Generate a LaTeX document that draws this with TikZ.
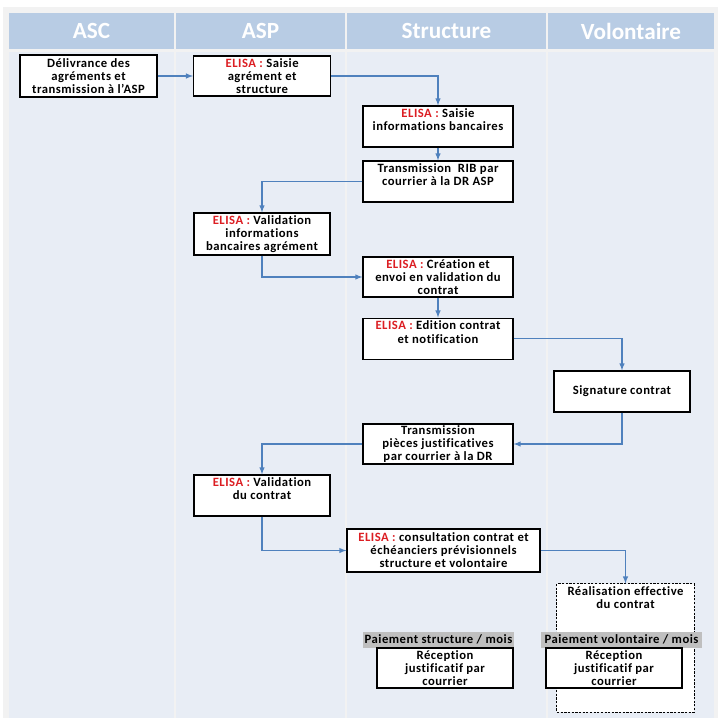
\documentclass[tikz,border=0pt]{standalone}
\usepackage{fontspec}
\setmainfont{Carlito}[Ligatures=NoCommon]
\newfontfamily\boitefont{Carlito}[LetterSpace=4,Ligatures=NoCommon]
\usepackage{tikz}
\usetikzlibrary{positioning,arrows}
\definecolor{entetebleu}{RGB}{184,204,228}
\definecolor{fondbleu}{RGB}{232,237,245}
\definecolor{flechebleu}{RGB}{79,129,189}
\definecolor{elisarouge}{RGB}{220,30,35}
\definecolor{grispaie}{RGB}{191,191,191}
\newcommand{\elisa}{\textcolor{elisarouge}{ELISA :}}
\tikzstyle{etape}=[draw, fill=white, minimum height = 1.025cm, minimum width=3.425cm, thick, align=center, inner sep=1pt, font=\boitefont\bfseries\fontsize{9}{9.3}\selectfont]
\tikzstyle{etape1}=[etape, minimum width=3.75cm]
\tikzstyle{pointille}=[draw, dash pattern=on 1.6pt off 1pt, fill=white, line width=0.7pt, minimum width=3.425cm, minimum height=3.2cm]
\tikzstyle{paie}=[fill=grispaie, inner sep=1pt, minimum height=0.4cm, font=\boitefont\bfseries\fontsize{9}{9.3}\selectfont]
\tikzstyle{entete}=[fill=entetebleu, text=white, minimum height=0.9cm, inner sep=0pt, font=\bfseries\fontsize{16.5}{18}\selectfont]
\tikzstyle{fleche}=[->, draw=flechebleu, line width=0.75pt]

\begin{document}
\begin{tikzpicture}[x=0.025cm,y=-0.025cm,node distance=2cm,auto,>=latex]
\useasboundingbox (0,0) rectangle (718,718);
\fill[white] (0,0) rectangle (718,718);
\fill[black!5] (3,7) rectangle (718,718);

% colonnes
\foreach \xa/\xb in {9/174,176/345,347/546,548/714}
  \fill[fondbleu] (\xa,52) rectangle (\xb,718);
\node[entete, minimum width=4.125cm] at (91.5,31) (asc) {ASC};
\node[entete, minimum width=4.225cm] at (260.5,31) (asp) {ASP};
\node[entete, minimum width=4.975cm] at (446.5,31) (struct) {Structure};
\node[entete, minimum width=4.15cm] at (631,31) (volont) {Volontaire};

\node[etape, minimum height=1.05cm] at (88.5,76) (deliv) {Délivrance des\\agréments et\\transmission à l’ASP};
\node[etape, right of = deliv, node distance = 4.34cm, minimum height=1cm] (saisie) {\elisa{} Saisie\\agrément et\\structure};
\draw[fleche] (deliv) -- (saisie);

\node[etape1] at (438,126.5) (banc) {\elisa{} Saisie\\informations bancaires\\\mbox{}};
\draw[fleche] (saisie) -| (banc);
\node[etape1, below of = banc, node distance = 1.375cm] (rib) {Transmission~ RIB par\\courrier à la DR ASP\\\mbox{}};
\draw[fleche] (banc) -- (rib);

\node[etape, minimum width=3.4cm, minimum height=1.05cm] at (262,234) (validb) {\elisa{} Validation\\informations\\bancaires agrément};
\draw[fleche] (rib) -| (validb);

\node[etape1, minimum height=1cm] at (438,277) (creat) {\elisa{} Création et\\envoi en validation du\\contrat};
\draw[fleche] (validb) |- (creat);
\node[etape1, below of = creat, node distance = 1.54cm] (edit) {\elisa{} Edition contrat\\et notification\\\mbox{}};
\draw[fleche] (creat) -- (edit);

\node[etape, minimum width=3.4cm] at (622,391.5) (sign) {Signature contrat};
\draw[fleche] (edit) -| (sign);

\node[etape1, minimum height=1cm] at (438,444) (pieces) {Transmission\\pièces justificatives\\par courrier à la DR};
\draw[fleche] (sign) |- (pieces);

\node[etape, minimum width=3.4cm] at (262,495.5) (validc) {\elisa{} Validation\\du contrat\\\mbox{}};
\draw[fleche] (pieces) -| (validc);

\node[etape, minimum width=4.825cm, minimum height=1.075cm] at (443.5,550.5) (consult) {\elisa{} consultation contrat et\\échéanciers prévisionnels\\structure et volontaire};
\draw[fleche] (validc) |- (consult);

\node[pointille] at (625.5,648) (real) {};
\node[below = 1pt of real.north, align=center, inner sep=1pt, font=\boitefont\bfseries\fontsize{9}{9.3}\selectfont] (realtxt) {Réalisation effective\\du contrat};
\draw[fleche] (consult) -| (real);

% paiements
\node[paie, minimum width=3.725cm] at (438.5,639.5) (paiestr) {Paiement structure / mois};
\node[etape, minimum width=3.4cm, minimum height=1cm] at (445,668) (recstr) {Réception\\justificatif par\\courrier};
\node[paie, minimum width=4.025cm] at (621.5,639.5) (paievol) {Paiement volontaire / mois};
\node[etape, minimum width=3.4cm, minimum height=1cm] at (614,668) (recvol) {Réception\\justificatif par\\courrier};
\end{tikzpicture}
\end{document}
